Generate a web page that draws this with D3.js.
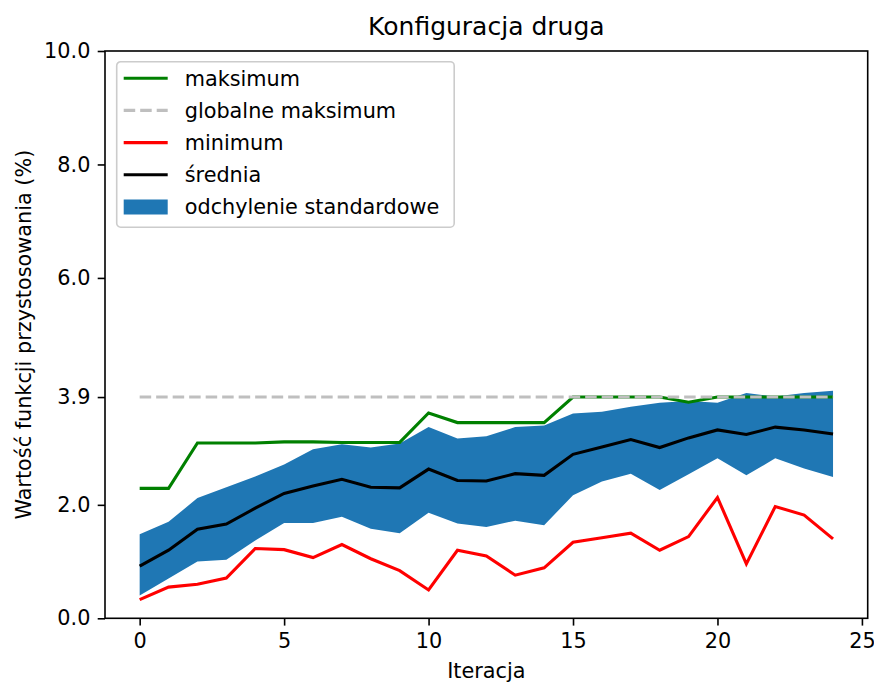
<!DOCTYPE html>
<html>
<head>
<meta charset="utf-8">
<script src="https://cdn.jsdelivr.net/npm/d3@7"></script>
<style>
  body { margin: 0; background: #fff; }
  text { font-family: "DejaVu Sans", sans-serif; fill: #000; }
</style>
</head>
<body>
<div id="chart"></div>
<script>
// Iterations (x axis)
var iterations = [0,1,2,3,4,5,6,7,8,9,10,11,12,13,14,15,16,17,18,19,20,21,22,23,24];

// Series
var maksimum = [2.29,2.29,3.09,3.09,3.09,3.11,3.11,3.10,3.10,3.10,3.62,3.45,3.45,3.45,3.45,3.9,3.9,3.9,3.9,3.81,3.9,3.9,3.9,3.9,3.9];
var globalneMaksimum = 3.9;
var minimum = [0.33,0.55,0.60,0.71,1.23,1.21,1.07,1.30,1.05,0.84,0.50,1.20,1.10,0.76,0.89,1.34,1.42,1.50,1.20,1.44,2.13,0.96,1.97,1.82,1.40];
var srednia = [0.92,1.20,1.57,1.66,1.94,2.20,2.33,2.45,2.31,2.30,2.63,2.43,2.42,2.55,2.52,2.89,3.02,3.15,3.01,3.18,3.32,3.24,3.37,3.32,3.25];
var odchylenieGora = [1.48,1.70,2.12,2.31,2.50,2.71,2.98,3.07,3.01,3.08,3.37,3.17,3.21,3.37,3.40,3.61,3.64,3.73,3.80,3.83,3.80,3.97,3.91,3.97,4.01];
var odchylenieDol = [0.40,0.70,1.00,1.03,1.37,1.68,1.68,1.79,1.58,1.50,1.86,1.67,1.61,1.72,1.64,2.17,2.41,2.55,2.26,2.54,2.82,2.52,2.82,2.64,2.49];

// Tick values and labels
var xTicks = [0, 5, 10, 15, 20, 25];
var yTicks = [0, 2.0, 3.9, 6.0, 8.0, 10.0];
var yTickLabels = ["0.0", "2.0", "3.9", "6.0", "8.0", "10.0"];

// Legend entries
var legendLabels = ["maksimum", "globalne maksimum", "minimum", "średnia", "odchylenie standardowe"];

// Sizes
var outer_width = 874;
var outer_height = 683;
var margin = {top: 51, right: 6.3, bottom: 64.7, left: 105};
var width = outer_width - margin.left - margin.right;
var height = outer_height - margin.top - margin.bottom;
var fontSize = 20.8;

var svg = d3.select("#chart")
            .append("svg")
            .attr("width", outer_width)
            .attr("height", outer_height);

var g = svg.append("g")
           .attr("transform", "translate(" + margin.left + "," + margin.top + ")");

// Scales
var xScale = d3.scaleLinear()
               .domain([-1.2, 25.2])
               .range([0, width]);

var yScale = d3.scaleLinear()
               .domain([0, 10])
               .range([height, 0]);

// Standard deviation band
var area = d3.area()
             .x(function(d, i) { return xScale(iterations[i]); })
             .y0(function(d, i) { return yScale(odchylenieDol[i]); })
             .y1(function(d) { return yScale(d); });

g.append("path")
 .datum(odchylenieGora)
 .attr("d", area)
 .attr("fill", "#1f77b4");

var line = d3.line()
             .x(function(d, i) { return xScale(iterations[i]); })
             .y(function(d) { return yScale(d); });

// Maximum
g.append("path")
 .datum(maksimum)
 .attr("d", line)
 .attr("fill", "none")
 .attr("stroke", "#008000")
 .attr("stroke-width", 3.1);

// Global maximum
g.append("line")
 .attr("x1", xScale(iterations[0]))
 .attr("x2", xScale(iterations[iterations.length - 1]))
 .attr("y1", yScale(globalneMaksimum))
 .attr("y2", yScale(globalneMaksimum))
 .attr("stroke", "#bfbfbf")
 .attr("stroke-width", 3.1)
 .attr("stroke-dasharray", "11.5,5");

// Minimum
g.append("path")
 .datum(minimum)
 .attr("d", line)
 .attr("fill", "none")
 .attr("stroke", "#ff0000")
 .attr("stroke-width", 3.1);

// Mean
g.append("path")
 .datum(srednia)
 .attr("d", line)
 .attr("fill", "none")
 .attr("stroke", "#000")
 .attr("stroke-width", 3.1);

// Axes
var xAxis = d3.axisBottom(xScale)
              .tickValues(xTicks)
              .tickSize(7.3)
              .tickPadding(7.3)
              .tickFormat(d3.format("d"));

var yAxis = d3.axisLeft(yScale)
              .tickValues(yTicks)
              .tickSize(7.3)
              .tickPadding(7.3)
              .tickFormat(function(d, i) { return yTickLabels[i]; });

var gx = g.append("g")
          .attr("transform", "translate(0," + height + ")")
          .call(xAxis);

var gy = g.append("g")
          .call(yAxis);

[gx, gy].forEach(function(ax) {
    ax.select(".domain").remove();
    ax.selectAll(".tick line").attr("stroke", "#000").attr("stroke-width", 1.6);
    ax.selectAll(".tick text")
      .attr("font-size", fontSize)
      .attr("font-family", "DejaVu Sans")
      .attr("fill", "#000");
});

// Frame
g.append("rect")
 .attr("x", 0)
 .attr("y", 0)
 .attr("width", width)
 .attr("height", height)
 .attr("fill", "none")
 .attr("stroke", "#000")
 .attr("stroke-width", 1.6);

// Title
svg.append("text")
   .attr("x", margin.left + width / 2)
   .attr("y", 35)
   .attr("text-anchor", "middle")
   .attr("font-size", 25)
   .text("Konfiguracja druga");

// Axis labels
svg.append("text")
   .attr("x", margin.left + width / 2)
   .attr("y", 678)
   .attr("text-anchor", "middle")
   .attr("font-size", fontSize)
   .text("Iteracja");

svg.append("text")
   .attr("transform", "translate(31," + (margin.top + height / 2) + ") rotate(-90)")
   .attr("text-anchor", "middle")
   .attr("font-size", fontSize)
   .text("Wartość funkcji przystosowania (%)");

// Legend
var legend = g.append("g")
              .attr("transform", "translate(11.7,10.7)");

legend.append("rect")
      .attr("x", 0)
      .attr("y", 0)
      .attr("width", 337.5)
      .attr("height", 165.5)
      .attr("rx", 4)
      .attr("fill", "#fff")
      .attr("fill-opacity", 0.8)
      .attr("stroke", "#cccccc")
      .attr("stroke-width", 1.6);

var legendStyles = [
    {stroke: "#008000", dash: null},
    {stroke: "#bfbfbf", dash: "11.5,5"},
    {stroke: "#ff0000", dash: null},
    {stroke: "#000", dash: null},
    {stroke: null, fill: "#1f77b4"}
];

legendLabels.forEach(function(label, i) {
    var cy = 16.5 + i * 32.2;
    var s = legendStyles[i];
    if (s.stroke) {
        legend.append("line")
              .attr("x1", 7)
              .attr("x2", 51)
              .attr("y1", cy)
              .attr("y2", cy)
              .attr("stroke", s.stroke)
              .attr("stroke-width", 3.1)
              .attr("stroke-dasharray", s.dash);
    } else {
        legend.append("rect")
              .attr("x", 7)
              .attr("y", cy - 7.5)
              .attr("width", 44)
              .attr("height", 15)
              .attr("fill", s.fill);
    }
    legend.append("text")
          .attr("x", 68)
          .attr("y", cy)
          .attr("dy", "0.36em")
          .attr("font-size", fontSize)
          .text(label);
});
</script>
</body>
</html>
